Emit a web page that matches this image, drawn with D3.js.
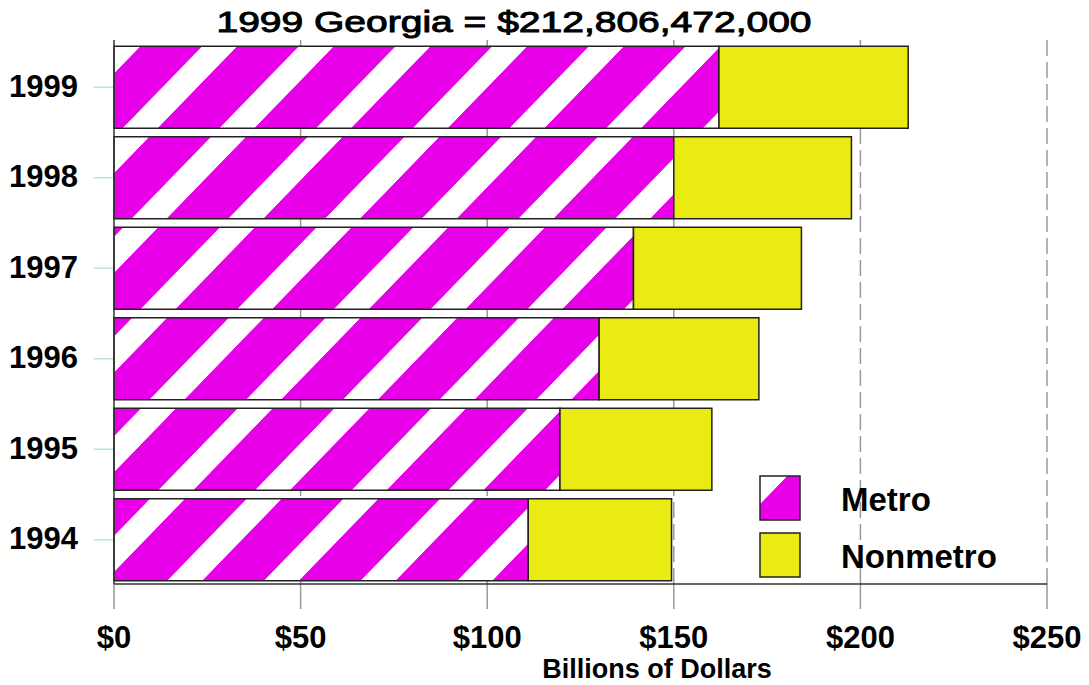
<!DOCTYPE html>
<html>
<head>
<meta charset="utf-8">
<script src="https://cdn.jsdelivr.net/npm/d3@7"></script>
<style>
  html, body { margin: 0; padding: 0; background: #fff; }
  svg { display: block; font-family: "Liberation Sans", Arial, sans-serif; }
</style>
</head>
<body>
<svg id="chart" width="1089" height="685"></svg>
<script>
// ---- data ----
const years = ["1999", "1998", "1997", "1996", "1995", "1994"];
const metro = [162.1, 150.0, 139.2, 130.0, 119.5, 111.0];
const nonmetro = [50.7, 47.6, 45.0, 42.8, 40.7, 38.4];
const xTicks = [0, 50, 100, 150, 200, 250];
const xTickLabels = ["$0", "$50", "$100", "$150", "$200", "$250"];
const seriesNames = ["Metro", "Nonmetro"];
const titleText = "1999 Georgia = $212,806,472,000";
const xAxisTitle = "Billions of Dollars";

// ---- setup ----
const svg = d3.select("#chart");
const MAGENTA = "#e800e8", YELLOW = "#ebeb14", OUTLINE = "#222";

const x = d3.scaleLinear().domain([0, 250]).range([114, 1047]);
const y = d3.scaleBand().domain(years).range([42, 585]).paddingInner(0.094).paddingOuter(0.047);

// stripe pattern (diagonal "/" magenta on white)
const defs = svg.append("defs");
const period = 96.7, slope = 0.97;
const pat = defs.append("pattern")
  .attr("id", "stripes")
  .attr("patternUnits", "userSpaceOnUse")
  .attr("width", period).attr("height", 10)
  .attr("patternTransform", `translate(88.6,0) skewX(${-Math.atan(slope) * 180 / Math.PI})`);
pat.append("rect").attr("width", period).attr("height", 10).attr("fill", "#fff");
pat.append("rect").attr("width", 61.7).attr("height", 10).attr("fill", MAGENTA);

// gridlines (dashed)
svg.append("g").selectAll("line").data(xTicks.slice(1)).join("line")
  .attr("x1", d => x(d)).attr("x2", d => x(d))
  .attr("y1", 40).attr("y2", 584)
  .attr("stroke", "#999").attr("stroke-width", 1.5)
  .attr("stroke-dasharray", "16,6");

// x tick marks below axis
svg.append("g").selectAll("line").data(xTicks).join("line")
  .attr("x1", d => x(d)).attr("x2", d => x(d))
  .attr("y1", 584).attr("y2", 609)
  .attr("stroke", "#999").attr("stroke-width", 1.5);

// y tick marks (light teal)
svg.append("g").selectAll("line").data(years).join("line")
  .attr("x1", 94).attr("x2", 114)
  .attr("y1", d => y(d) + y.bandwidth() / 2).attr("y2", d => y(d) + y.bandwidth() / 2)
  .attr("stroke", "#b4e4dc").attr("stroke-width", 1.5);

// bars
const rows = years.map((yr, i) => ({ yr, m: metro[i], n: nonmetro[i] }));
const g = svg.append("g");
g.selectAll("rect.metro").data(rows).join("rect")
  .attr("class", "metro")
  .attr("x", x(0)).attr("y", d => y(d.yr))
  .attr("width", d => x(d.m) - x(0)).attr("height", y.bandwidth())
  .attr("fill", "url(#stripes)").attr("stroke", OUTLINE).attr("stroke-width", 1.5);
g.selectAll("rect.non").data(rows).join("rect")
  .attr("class", "non")
  .attr("x", d => x(d.m)).attr("y", d => y(d.yr))
  .attr("width", d => x(d.m + d.n) - x(d.m)).attr("height", y.bandwidth())
  .attr("fill", YELLOW).attr("stroke", OUTLINE).attr("stroke-width", 1.5);

// axes lines
svg.append("line").attr("x1", x(0)).attr("x2", x(0)).attr("y1", 40).attr("y2", 584)
  .attr("stroke", "#333").attr("stroke-width", 1.5);
svg.append("line").attr("x1", x(0)).attr("x2", x(250)).attr("y1", 584).attr("y2", 584)
  .attr("stroke", "#333").attr("stroke-width", 1.5);

// y labels
svg.append("g").selectAll("text").data(years).join("text")
  .attr("x", 78).attr("y", d => y(d) + y.bandwidth() / 2)
  .attr("dy", "0.3em").attr("text-anchor", "end")
  .attr("font-size", 31).attr("font-weight", "bold").attr("fill", "#000")
  .text(d => d);

// x labels
svg.append("g").selectAll("text").data(xTicks).join("text")
  .attr("x", d => x(d)).attr("y", 648)
  .attr("text-anchor", "middle")
  .attr("font-size", 31).attr("font-weight", "bold").attr("fill", "#000")
  .text((d, i) => xTickLabels[i]);

// x axis title
svg.append("text").attr("x", 657).attr("y", 678)
  .attr("text-anchor", "middle").attr("font-size", 27).attr("font-weight", "bold")
  .text(xAxisTitle);

// title
svg.append("text")
  .attr("transform", "translate(514,32) scale(1.3,1)")
  .attr("text-anchor", "middle").attr("font-size", 30)
  .attr("stroke", "#000").attr("stroke-width", 1)
  .text(titleText);

// legend
const leg = svg.append("g");
const legFills = ["url(#stripes)", YELLOW];
const legY = [476, 533];
leg.selectAll("rect").data(seriesNames).join("rect")
  .attr("x", 760).attr("y", (d, i) => legY[i]).attr("width", 40).attr("height", 44)
  .attr("fill", (d, i) => legFills[i]).attr("stroke", OUTLINE).attr("stroke-width", 1.5);
leg.selectAll("text").data(seriesNames).join("text")
  .attr("x", 841).attr("y", (d, i) => legY[i] + 35)
  .attr("font-size", 33).attr("font-weight", "bold")
  .text(d => d);
</script>
</body>
</html>
